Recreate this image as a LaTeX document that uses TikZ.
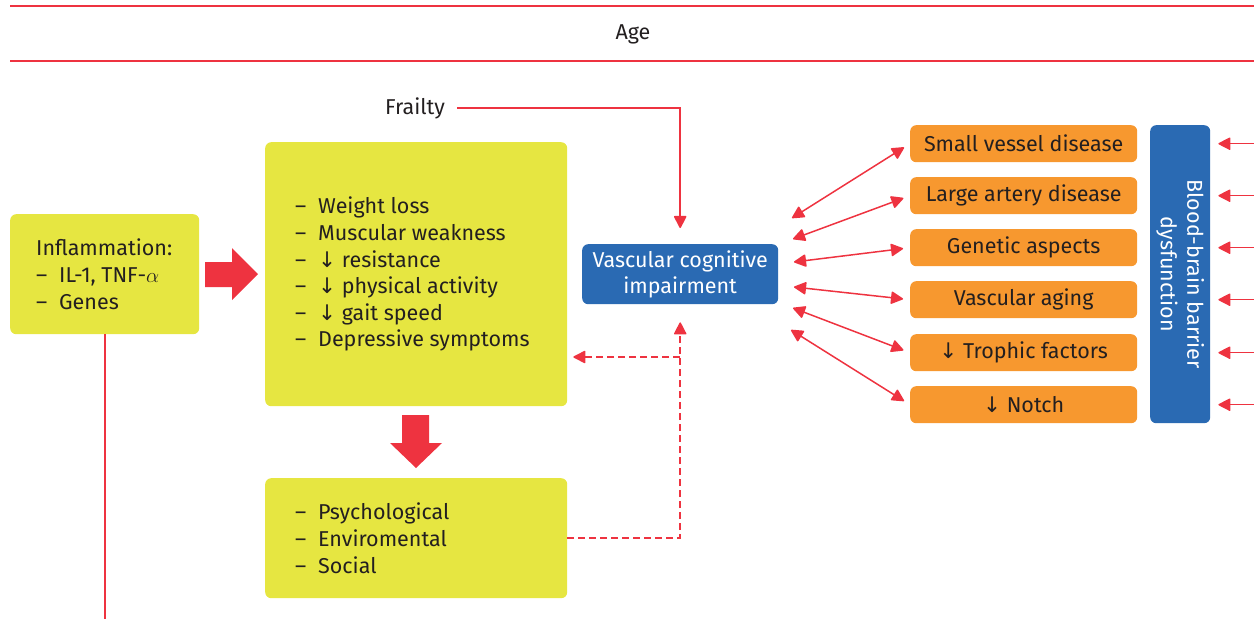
\documentclass[tikz,border=0pt]{standalone}
\usepackage{fontspec}
\setmainfont{Fira Sans}
\newfontfamily\symfont{DejaVu Sans}
\usetikzlibrary{arrows.meta}
\definecolor{cred}{HTML}{EE3340}
\definecolor{cyellow}{HTML}{E6E641}
\definecolor{corange}{HTML}{F7982F}
\definecolor{cblue}{HTML}{2A6AB3}
\definecolor{ctext}{HTML}{231F20}
\newcommand{\dn}{{\symfont\char"2193}}
\newcommand{\itm}[1]{\makebox[23pt][l]{–}#1}
\tikzset{
  txt/.style={font=\fontsize{21.5}{26.6}\selectfont, text=ctext, inner sep=0pt, align=left},
  ybox/.style={fill=cyellow, rounded corners=6pt, inner sep=0pt, anchor=north west},
  obox/.style={fill=corange, rounded corners=6pt, inner sep=0pt, anchor=north west,
    minimum width=227pt, minimum height=37pt, text=ctext, font=\fontsize{21.5}{24}\selectfont},
  bbox/.style={fill=cblue, rounded corners=6pt, inner sep=0pt, text=white, align=center,
    font=\fontsize{21.5}{26.6}\selectfont},
  conn/.style={draw=cred, line width=1.5pt, -{Triangle[length=13pt,width=13pt,round]}},
  dconn/.style={draw=cred, line width=1.5pt, {Triangle[length=13pt,width=13pt,round]}-{Triangle[length=13pt,width=13pt,round]}},
  dashconn/.style={draw=cred, line width=1.5pt, -{Triangle[length=13pt,width=13pt,round]}, dash pattern=on 7pt off 4pt},
  redline/.style={draw=cred, line width=2pt},
}
\begin{document}
\begin{tikzpicture}[x=1pt, y=-1pt]
\useasboundingbox (0,0) rectangle (1254,619);

% age band
\coordinate (t1) at (10,6);   \coordinate (t2) at (1254,6);
\coordinate (b1) at (10,61);  \coordinate (b2) at (1254,61);
\draw[redline] (t1) -- (t2);
\draw[redline] (b1) -- (b2);
\node[txt] (age) at (633,34) {Age};

% yellow boxes
\node[ybox, minimum width=189pt, minimum height=120pt] (infl) at (10,214) {};
\node[txt, anchor=west] (inflt) at ([xshift=26pt]infl.west) {Inflammation:\\\itm{IL-1, TNF-$\alpha$}\\\itm{Genes}};

\node[ybox, minimum width=302pt, minimum height=264pt] (big) at (265,142) {};
\node[txt, anchor=west] (bigt) at ([xshift=30pt]big.west) {\itm{Weight loss}\\\itm{Muscular weakness}\\\itm{\dn\ resistance}\\\itm{\dn\ physical activity}\\\itm{\dn\ gait speed}\\\itm{Depressive symptoms}};

\node[ybox, minimum width=302pt, minimum height=120pt] (low) at (265,478) {};
\node[txt, anchor=west] (lowt) at ([xshift=30pt]low.west) {\itm{Psychological}\\\itm{Enviromental}\\\itm{Social}};

% wide red arrows
\fill[cred] (205,262) -- (232,262) -- (232,248) -- (258,274) -- (232,300) -- (232,287) -- (205,287) -- cycle;
\fill[cred] (402,415) -- (429,415) -- (429,443) -- (442,443) -- (416,468) -- (390,443) -- (402,443) -- cycle;

% central node
\node[bbox, minimum width=196pt, minimum height=60pt, anchor=north west] (vcog) at (582,244) {};
\node[bbox, fill=none] (vcogt) at (vcog.center) {Vascular cognitive\\impairment};

% frailty
\node[txt, anchor=west] (frail) at (385,108) {Frailty};
\draw[conn, shorten <=12pt, shorten >=16pt] (frail.east) -| (vcog.north);

% dashed feedback
\coordinate (br) at (680,357);
\draw[dashconn, shorten >=18pt] (low.east) -| (vcog.south);
\draw[dashconn, shorten >=6pt] (br) -- (big.east |- br);

% inflammation down line
\coordinate (bot) at (105,619);
\draw[draw=cred, line width=1.5pt] (infl.south -| bot) -- (bot);

% orange boxes
\node[obox] (o1) at (910,125) {Small vessel disease};
\node[obox] (o2) at (910,177) {Large artery disease};
\node[obox] (o3) at (910,229) {Genetic aspects};
\node[obox] (o4) at (910,281) {Vascular aging};
\node[obox] (o5) at (910,334) {\dn\ Trophic factors};
\node[obox] (o6) at (910,386) {\dn\ Notch};

% blood-brain barrier
\node[bbox, minimum width=60pt, minimum height=298pt, anchor=north west] (bbb) at (1150,125) {};
\node[bbox, fill=none, rotate=-90] (bbbt) at (bbb.center) {Blood-brain barrier\\dysfunction};

% double arrows from the central node
\coordinate (l1) at (792,218);
\coordinate (l2) at (793,239);
\coordinate (l3) at (794,262);
\coordinate (l4) at (794,287);
\coordinate (l5) at (793,308);
\coordinate (l6) at (791,330);
\foreach \i in {1,...,6}{
  \draw[dconn, shorten >=7pt] (l\i) -- (o\i.west);
}

% arrows into the barrier
\foreach \i in {1,...,6}{
  \coordinate (r\i) at (1254,0 |- o\i.west);
  \draw[conn, shorten >=8pt] (r\i) -- (bbb.east |- r\i);
}
\end{tikzpicture}
\end{document}
